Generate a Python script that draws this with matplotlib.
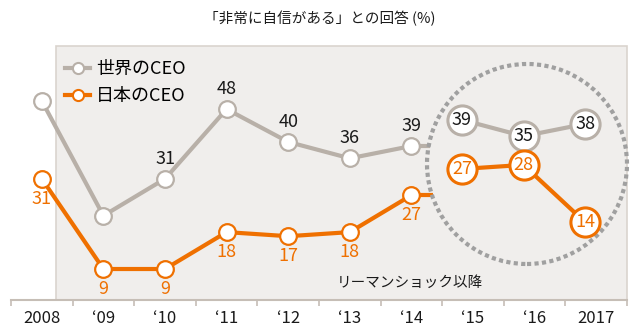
import matplotlib
matplotlib.use('Agg')
import matplotlib.pyplot as plt
from matplotlib.patches import Rectangle, Ellipse
from matplotlib.lines import Line2D

plt.rcParams['font.family'] = ['Noto Sans CJK JP', 'DejaVu Sans']

# ---- data ----
years = ['2008', '‘09', '‘10', '‘11', '‘12', '‘13', '‘14', '‘15', '‘16', '2017']
world = [50, 22, 31, 48, 40, 36, 39, 39, 35, 38]
japan = [31, 9, 9, 18, 17, 18, 27, 27, 28, 14]
world_label = '世界のCEO'
japan_label = '日本のCEO'
title = '「非常に自信がある」との回答 (%)'
note = 'リーマンショック以降'

# ---- style ----
GRAY = '#b8b0a8'
ORANGE = '#ef7000'
BG = '#f0eeec'
BORDER = '#dad4ce'
AXIS = '#c6beb6'
DOT = '#a0a0a0'
TXT = '#1a1a1a'
NUM = 13

W, H = 640, 336
L, R, B, T = 11, 627, 300, 46
pos = [L / W, 1 - B / H, (R - L) / W, (B - T) / H]

fig = plt.figure(figsize=(6.4, 3.36), dpi=100)
ax = fig.add_axes(pos)
ax.set_xlim(-0.5, 9.5)
ax.set_ylim(1.44, 63.4)

split = 7
xs = list(range(len(years)))

# shaded panel
x0 = (56 - L) / (R - L)
ax.add_patch(Rectangle((x0, 0), 1 - x0, 1, transform=ax.transAxes,
                       facecolor=BG, edgecolor=BORDER, lw=1.2, zorder=0,
                       clip_on=False))

# main series
line_kw = dict(lw=3, marker='o', ms=12, mfc='white', mew=1.6,
               solid_capstyle='butt', zorder=3)
ax.plot(xs[:split], world[:split], color=GRAY, mec=GRAY, **line_kw)
ax.plot(xs[:split], japan[:split], color=ORANGE, mec=ORANGE, **line_kw)

# stubs toward the circled region
ax.plot([xs[split - 1], xs[split - 1] + 0.30], [world[split - 1]] * 2,
        color=GRAY, lw=3, solid_capstyle='butt', zorder=2)
ax.plot([xs[split - 1], xs[split - 1] + 0.35], [japan[split - 1]] * 2,
        color=ORANGE, lw=3, solid_capstyle='butt', zorder=2)

for i in range(2, split):
    ax.annotate(str(world[i]), (xs[i], world[i]), xytext=(0, 14.5),
                textcoords='offset points', ha='center', va='center',
                fontsize=NUM, color=TXT, zorder=5)
for i in range(split):
    ax.annotate(str(japan[i]), (xs[i], japan[i]), xytext=(0, -14.5),
                textcoords='offset points', ha='center', va='center',
                fontsize=NUM, color=ORANGE, zorder=5)

# dotted circle
ax.add_patch(Ellipse(((527 - L) / (R - L), (B - 164) / (B - T)),
                     200 / (R - L), 200 / (B - T), transform=ax.transAxes,
                     fill=False, ec=DOT, lw=3, ls=(0, (1, 0.8)),
                     clip_on=False, zorder=4))

ax.text((337 - L) / (R - L), (B - 283) / (B - T), note,
        transform=ax.transAxes, ha='left', va='center', fontsize=10.5,
        color=TXT)

# axis
ax.set_yticks([])
ax.set_xticks(xs)
ax.set_xticklabels(years)
ax.set_xticks([i - 0.5 for i in range(len(years) + 1)], minor=True)
ax.tick_params(axis='x', which='major', length=0, pad=7, labelsize=12,
               labelcolor=TXT)
ax.tick_params(axis='x', which='minor', length=4, width=1.2, color=AXIS,
               direction='out')
for s in ['top', 'left', 'right']:
    ax.spines[s].set_visible(False)
ax.spines['bottom'].set_color(AXIS)
ax.spines['bottom'].set_linewidth(1.5)
ax.patch.set_visible(False)

# legend
handles = [Line2D([], [], color=GRAY, lw=3, marker='o', ms=8, mfc='white',
                  mec=GRAY, mew=1.5),
           Line2D([], [], color=ORANGE, lw=3, marker='o', ms=8, mfc='white',
                  mec=ORANGE, mew=1.5)]
ax.legend(handles, [world_label, japan_label], loc='upper left',
          bbox_to_anchor=((65 - L) / (R - L), (B - 60) / (B - T)),
          frameon=False, fontsize=13, handlelength=1.4, handletextpad=0.3,
          labelspacing=0.5, borderpad=0, borderaxespad=0)

# circled section (own axes, shifted scale)
ax2 = fig.add_axes(pos)
ax2.set_xlim(-0.5 + 0.18, 9.5 + 0.18)
ax2.set_ylim(1.44 - 6.4, 63.4 - 6.4)
ax2.axis('off')
big_kw = dict(lw=3, marker='o', ms=21, mfc='white', mew=2.2,
              solid_capstyle='butt', zorder=3)
ax2.plot(xs[split:], world[split:], color=GRAY, mec=GRAY, **big_kw)
ax2.plot(xs[split:], japan[split:], color=ORANGE, mec=ORANGE, **big_kw)
for i in range(split, len(years)):
    ax2.text(xs[i], world[i], str(world[i]), ha='center', va='center',
             fontsize=NUM, color=TXT, zorder=5)
    ax2.text(xs[i], japan[i], str(japan[i]), ha='center', va='center',
             fontsize=NUM, color=ORANGE, zorder=5)

fig.text(0.5, 1 - 18 / H, title, ha='center', va='center', fontsize=10.5,
         color=TXT)

fig.savefig('out.png', dpi=100)
